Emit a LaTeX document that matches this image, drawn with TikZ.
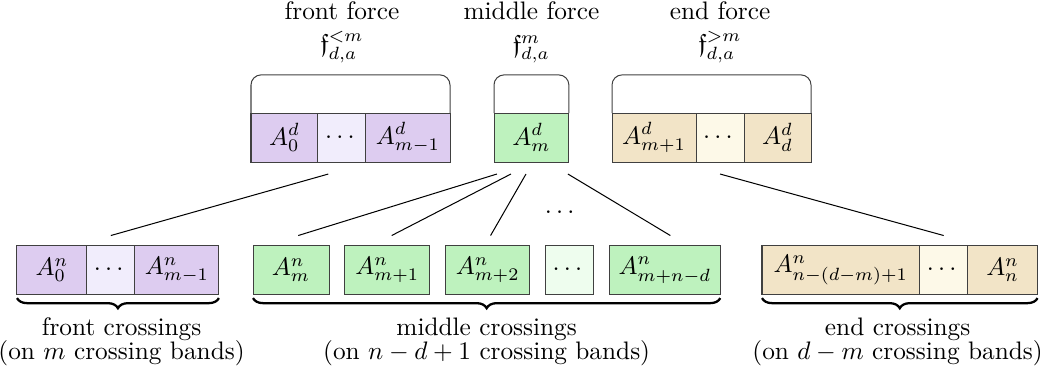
\documentclass[tikz,border=0pt]{standalone}
\usepackage{amsmath,amssymb}
\usepackage{xcolor}
\usetikzlibrary{positioning,calc,decorations.pathreplacing}
\definecolor{frontcol}{RGB}{221,204,240}
\definecolor{frontlight}{RGB}{241,237,252}
\definecolor{middlecol}{RGB}{190,242,190}
\definecolor{middlelight}{RGB}{238,253,238}
\definecolor{endcol}{RGB}{242,228,199}
\definecolor{endlight}{RGB}{253,249,232}

\begin{document}
\begin{tikzpicture}[node distance=0pt,
  cell/.style={draw=black!75, minimum height=0.68cm, inner sep=0pt, outer sep=0pt},
  forcecap/.style={draw=black!75, rounded corners=4pt},
  band/.style={decorate, decoration={brace, mirror, amplitude=4pt}, line width=0.9pt},
  title/.style={align=center}]
  \useasboundingbox (0,0) rectangle (14.444,-5.111);

  % forces (top row)
  \node[cell, fill=frontcol, minimum width=0.93cm, anchor=west] (ft1) at (3.486,-1.91) {$A^d_0$};
  \node[cell, fill=frontlight, minimum width=0.667cm, right=of ft1] (ft2) {$\cdots$};
  \node[cell, fill=frontcol, minimum width=1.167cm, right=of ft2] (ft3) {$A^d_{m-1}$};
  \draw[forcecap] (ft1.north west) -- ++(0,0.53) -| (ft3.north east);
  \node[title, above=0.57cm of ft2] (ftitle) {front force\\[1pt]$\mathfrak{f}^{<m}_{d,a}$};

  \node[cell, fill=middlecol, minimum width=1.04cm, anchor=west] (mt) at (6.861,-1.91) {$A^d_m$};
  \draw[forcecap] (mt.north west) -- ++(0,0.53) -| (mt.north east);
  \node[title, above=0.57cm of mt] (mtitle) {middle force\\[1pt]$\mathfrak{f}^{m}_{d,a}$};

  \node[cell, fill=endcol, minimum width=1.167cm, anchor=west] (et1) at (8.5,-1.91) {$A^d_{m+1}$};
  \node[cell, fill=endlight, minimum width=0.667cm, right=of et1] (et2) {$\cdots$};
  \node[cell, fill=endcol, minimum width=0.93cm, right=of et2] (et3) {$A^d_d$};
  \draw[forcecap] (et1.north west) -- ++(0,0.53) -| (et3.north east);
  \node[title, above=0.57cm of et2] (etitle) {end force\\[1pt]$\mathfrak{f}^{>m}_{d,a}$};

  % crossings (bottom row)
  \node[cell, fill=frontcol, minimum width=0.97cm, anchor=west] (fb1) at (0.236,-3.75) {$A^n_0$};
  \node[cell, fill=frontlight, minimum width=0.667cm, right=of fb1] (fb2) {$\cdots$};
  \node[cell, fill=frontcol, minimum width=1.167cm, right=of fb2] (fb3) {$A^n_{m-1}$};

  \node[cell, fill=middlecol, minimum width=1.056cm, anchor=west] (mb1) at (3.514,-3.75) {$A^n_m$};
  \node[cell, fill=middlecol, minimum width=1.18cm, right=0.22cm of mb1] (mb2) {$A^n_{m+1}$};
  \node[cell, fill=middlecol, minimum width=1.167cm, right=0.22cm of mb2] (mb3) {$A^n_{m+2}$};
  \node[cell, fill=middlelight, minimum width=0.667cm, right=0.22cm of mb3] (mb4) {$\cdots$};
  \node[cell, fill=middlecol, minimum width=1.54cm, right=0.22cm of mb4] (mb5) {$A^n_{m+n-d}$};

  \node[cell, fill=endcol, minimum width=2.19cm, anchor=west] (eb1) at (10.583,-3.75) {$A^n_{n-(d-m)+1}$};
  \node[cell, fill=endlight, minimum width=0.667cm, right=of eb1] (eb2) {$\cdots$};
  \node[cell, fill=endcol, minimum width=0.97cm, right=of eb2] (eb3) {$A^n_n$};

  % braces
  \draw[band] ($(fb1.south west)+(0,-0.05)$) -- node[below=4pt, xshift=0.05cm, align=center] (flabel) {front crossings\\[-2.5pt](on $m$ crossing bands)} ($(fb3.south east)+(0,-0.05)$);
  \draw[band] ($(mb1.south west)+(0,-0.05)$) -- node[below=4pt, align=center] (mlabel) {middle crossings\\[-2.5pt](on $n-d+1$ crossing bands)} ($(mb5.south east)+(0,-0.05)$);
  \draw[band] ($(eb1.south west)+(0,-0.05)$) -- node[below=4pt, xshift=-0.03cm, align=center] (elabel) {end crossings\\[-2.5pt](on $d-m$ crossing bands)} ($(eb3.south east)+(0,-0.05)$);

  % links
  \draw ($(ft2.south)+(-0.19,-0.167)$) -- ($(fb2.north)+(0,0.139)$);
  \draw ($(mt.south)+(-0.48,-0.167)$) -- ($(mb1.north)+(0.1,0.139)$);
  \draw ($(mt.south)+(-0.285,-0.167)$) -- ($(mb2.north)+(0.06,0.139)$);
  \draw ($(mt.south)+(-0.076,-0.167)$) -- ($(mb3.north)+(0.04,0.139)$);
  \draw ($(mt.south)+(0.507,-0.167)$) -- ($(mb5.north)+(0.076,0.139)$);
  \draw ($(et2.south)+(0,-0.167)$) -- ($(eb2.north)+(0,0.139)$);
  \node (middots) at ($(mt.south)+(0.42,-0.7)$) {$\cdots$};
\end{tikzpicture}
\end{document}
